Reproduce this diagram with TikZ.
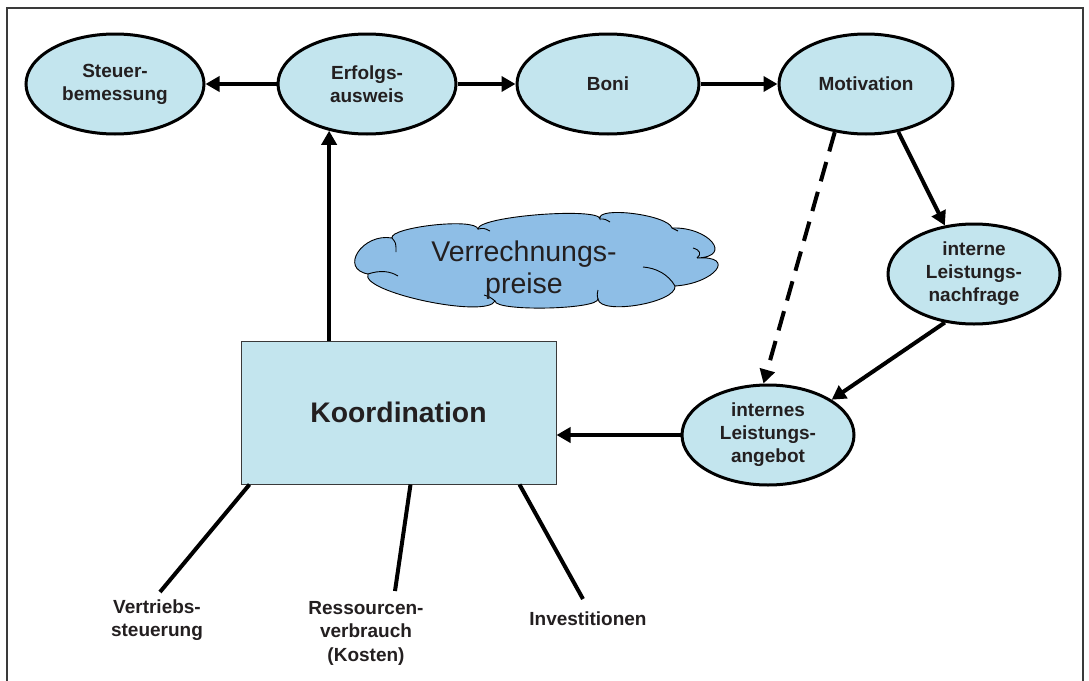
\documentclass[tikz,border=0pt]{standalone}
\usepackage{fontspec}
\setmainfont{Liberation Sans}
\usetikzlibrary{shapes.geometric,arrows.meta,calc}
\definecolor{fillblue}{HTML}{C3E5EE}
\definecolor{cloudblue}{HTML}{8EBEE6}
\definecolor{txt}{HTML}{231F20}
\definecolor{framecol}{HTML}{3A3A3A}
\begin{document}
\begin{tikzpicture}[x=1pt,y=-1pt,
  oval/.style={ellipse, draw=black, line width=3pt, fill=fillblue,
    minimum width=178pt, minimum height=100pt, inner sep=0pt, align=center,
    text=txt, font=\bfseries\fontsize{19}{23}\selectfont},
  arr/.style={line width=4pt, -{Triangle[length=14pt,width=15pt]}},
  dasharr/.style={arr, dash pattern=on 20pt off 11pt},
  plainline/.style={line width=4pt},
  lbl/.style={align=center, text=txt, inner sep=0pt,
    font=\bfseries\fontsize{19}{23.5}\selectfont},
  cloudline/.style={draw=black, line width=0.9pt},
]
\useasboundingbox (0,0) rectangle (1089,680);
\fill[white] (0,0) rectangle (1089,680);
% frame
\draw[framecol, line width=2pt] (7,682) -- (7,8) -- (1083,8) -- (1083,682);

% ellipses
\node[oval] (steu) at (115,84) {Steuer-\\bemessung};
\node[oval] (erf)  at (367,84) {Erfolgs-\\ausweis};
\node[oval, minimum width=182pt] (boni) at (608,84) {Boni};
\node[oval, minimum width=174pt] (mot)  at (866,84) {Motivation};
\node[oval, minimum width=172pt] (nach) at (974,274) {interne\\Leistungs-\\nachfrage};
\node[oval, minimum width=172pt] (ang)  at (768,435) {internes\\Leistungs-\\angebot};

% cloud (drawn directly)
\filldraw[cloudline, fill=cloudblue]
  (368,274) .. controls (338.7,268.7) and (362.7,232.7) .. (392,238)
  .. controls (389.3,227.3) and (475.3,217.3) .. (478,229)
  .. controls (478,216) and (600,207) .. (600,219)
  .. controls (596,205.7) and (668,214.7) .. (672,228)
  .. controls (708.7,226.7) and (733.7,256.7) .. (697,258)
  .. controls (737,255.3) and (715,283.3) .. (675,286)
  .. controls (677,302.7) and (600,315.7) .. (598,299)
  .. controls (598,309.7) and (495,311.7) .. (495,301)
  .. controls (486.3,319) and (359.3,292) .. cycle;
\draw[cloudline] (368,274) .. controls (380,270) and (390,271) .. (398,276);
\draw[cloudline] (392,238) .. controls (396,243) .. (396,252);
\draw[cloudline] (478,229) .. controls (484,228) .. (490,231);
\draw[cloudline] (600,219) .. controls (605,219) .. (610,222);
\draw[cloudline] (672,228) .. controls (675,229) .. (678,231);
\draw[cloudline] (697,258) .. controls (702,254) and (700,250) .. (693,248);
\draw[cloudline] (675,286) .. controls (668,274) and (656,268) .. (643,267);
\draw[cloudline] (598,299) .. controls (597,295) .. (598,290);
\draw[cloudline] (495,301) .. controls (490,297) .. (484,295);
\node[align=center, text=txt, inner sep=0pt, font=\fontsize{28.5}{32}\selectfont] (cloudtxt) at (524,270) {Verrechnungs-\\preise};

% box
\node[draw=framecol, line width=1pt, fill=fillblue, minimum width=315pt, minimum height=143pt,
  inner sep=0pt, text=txt, font=\bfseries\fontsize{28.3}{32}\selectfont] (koord) at (398.5,412.5) {Koordination};

% labels
\node[lbl] (vert) at (157,620) {Vertriebs-\\steuerung};
\node[lbl] (ress) at (366,633) {Ressourcen-\\verbrauch\\(Kosten)};
\node[lbl] (inv)  at (588,619) {Investitionen};
\coordinate (vertend) at (160,592);
\coordinate (ressend) at (395,591);
\coordinate (invend)  at (583,599);

% connectors
\draw[arr] (erf) -- (steu);
\draw[arr] (erf) -- (boni);
\draw[arr] (boni) -- (mot);
\draw[arr] (koord.north -| erf.231) -- (erf.231);
\draw[arr] (mot.304) -- (nach.121);
\draw[dasharr] (mot.237) -- (ang.95);
\draw[arr] (nach.239) -- (ang.29);
\draw[arr] (ang.west) -- (koord.east |- ang.west);
\draw[plainline] ($(koord.south west)+(9,0)$) -- (vertend);
\draw[plainline] ($(koord.south west)+(170,0)$) -- (ressend);
\draw[plainline] ($(koord.south west)+(279,0)$) -- (invend);
\end{tikzpicture}
\end{document}
